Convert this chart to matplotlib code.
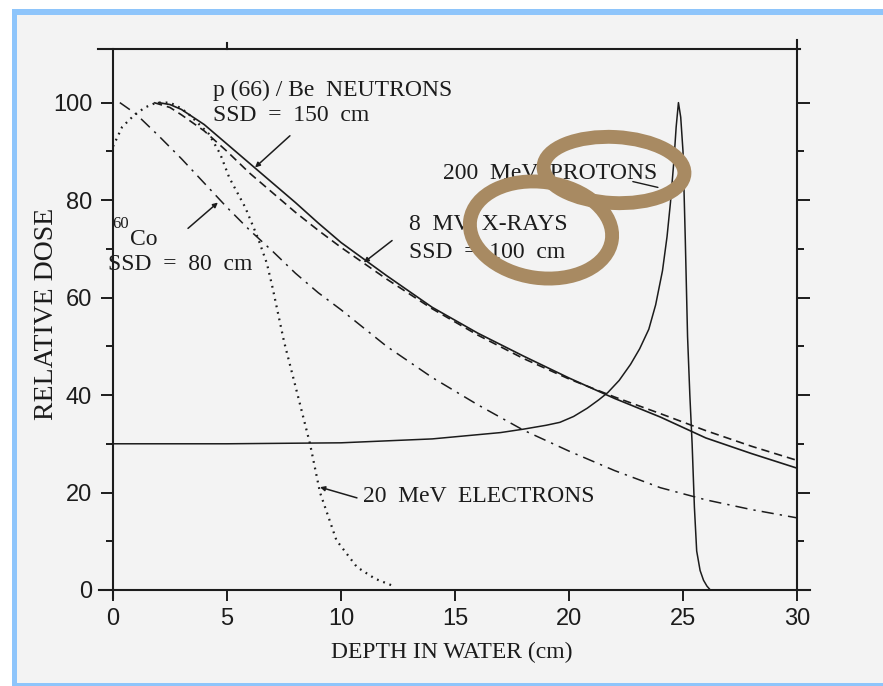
import numpy as np
import matplotlib.pyplot as plt
from matplotlib.patches import Ellipse, Rectangle

plt.rcParams['font.family'] = ['Liberation Sans', 'DejaVu Sans']
SERIF = 'Liberation Serif'
INK = '#1c1c1c'

# Depth-dose curves: depth in water (cm) vs. relative dose (%)
neutron_depth = [2.0, 2.5, 3, 4, 5, 6, 7, 8, 9, 10, 12, 14, 16, 18, 20, 22, 24, 26, 28, 30]
neutron_dose = [100, 99.6, 98.6, 95.5, 91.5, 87.5, 83.5, 79.5, 75.3, 71.3, 64.5, 58.0,
                52.7, 48.0, 43.5, 39.3, 35.5, 31.2, 28.0, 25.0]

xray_depth = [1.8, 2.5, 3, 4, 5, 6, 7, 8, 9, 10, 12, 14, 16, 18, 20, 22, 24, 26, 28, 30]
xray_dose = [100, 99.0, 97.5, 94.2, 90.0, 85.5, 81.5, 77.5, 73.8, 70.3, 63.8, 57.7,
             52.3, 47.5, 43.3, 39.6, 36.2, 32.7, 29.5, 26.6]

cobalt_depth = [0.3, 1, 2, 3, 4, 5, 6, 7, 8, 9, 10, 12, 14, 16, 18, 20, 22, 24, 26, 28, 30]
cobalt_dose = [100, 97.7, 93.2, 88.5, 83.5, 78.5, 73.8, 69.5, 65.0, 61.0, 57.5, 50.0,
               43.6, 38.0, 32.8, 28.5, 24.5, 21.0, 18.5, 16.5, 14.8]

electron_depth = [0, 0.4, 0.9, 1.4, 1.9, 2.5, 3.0, 3.4, 4.2, 4.7, 5.1, 5.8, 6.35, 6.75,
                  7.0, 7.5, 8.1, 8.64, 9.08, 9.8, 10.7, 11.5, 12.2]
electron_dose = [91, 95, 97.3, 99, 100, 100, 98.8, 97.3, 93.6, 89.5, 84.6, 78.5, 72.3, 67,
                 62, 51, 40, 30, 20, 10.2, 4.7, 2.3, 1.0]

proton_depth = [0, 5, 10, 14, 17, 18, 19, 19.6, 20.2, 20.8, 21.3, 21.7, 22.2, 22.7, 23.1,
                23.5, 23.8, 24.1, 24.3, 24.45, 24.6, 24.7, 24.8, 24.9, 25.0, 25.1, 25.2,
                25.3, 25.4, 25.5, 25.6, 25.75, 25.9, 26.05, 26.2]
proton_dose = [30, 30, 30.2, 31, 32.3, 33.0, 33.8, 34.4, 35.6, 37.3, 39.0, 40.5, 43.0,
               46.3, 49.5, 53.5, 58.5, 65.5, 72.5, 79.5, 88, 95, 100, 97, 90, 72, 52,
               40, 30, 17, 8, 4, 2, 0.8, 0]

W, H = 883, 686
fig = plt.figure(figsize=(W / 100, H / 100), dpi=100, facecolor='#f3f3f3')

# page frame
fig.add_artist(Rectangle((0, 1 - 9 / H), 1, 9 / H, transform=fig.transFigure,
                         facecolor='white', edgecolor='none'))
fig.add_artist(Rectangle((0, 0), 12 / W, 1, transform=fig.transFigure,
                         facecolor='white', edgecolor='none'))
fig.add_artist(Rectangle((12 / W, 1 - 15 / H), 1, 6 / H, transform=fig.transFigure,
                         facecolor='#8ec5fb', edgecolor='none'))
fig.add_artist(Rectangle((12 / W, 0), 5 / W, 1 - 9 / H, transform=fig.transFigure,
                         facecolor='#8ec5fb', edgecolor='none'))
fig.add_artist(Rectangle((12 / W, 0), 1, 3 / H, transform=fig.transFigure,
                         facecolor='#8ec5fb', edgecolor='none'))

ax = fig.add_axes([113 / W, 1 - 590 / H, (797 - 113) / W, (590 - 49) / H])
ax.set_facecolor('none')
ax.set_xlim(0, 30)
ax.set_ylim(0, 111)

ax.plot(neutron_depth, neutron_dose, color=INK, lw=1.2, ls='-')
ax.plot(xray_depth, xray_dose, color=INK, lw=1.2, ls=(0, (5, 3)))
ax.plot(cobalt_depth, cobalt_dose, color=INK, lw=1.1, ls=(0, (8, 4, 1.5, 4)))
ax.plot(electron_depth, electron_dose, color=INK, lw=1.6, ls=(0, (0.8, 2.2)))
ax.plot(proton_depth, proton_dose, color=INK, lw=1.1, ls='-')

# hand-drawn style axes: lines that overrun each other at the corners
for s in ax.spines.values():
    s.set_visible(False)
frame = dict(color=INK, lw=1.5, clip_on=False)
ax.plot([-0.6, 30.55], [0, 0], **frame)
ax.plot([0, 0], [-1.6, 111], **frame)
ax.plot([-0.65, 30.15], [111, 111], **frame)
ax.plot([30, 30], [0, 112.9], **frame)
ax.plot([5, 5], [111, 112.3], **frame)

ax.set_xticks(np.arange(0, 31, 5))
ax.set_yticks(np.arange(0, 101, 20))
ax.set_yticks(np.arange(10, 100, 20), minor=True)
ax.tick_params(axis='x', direction='out', length=8, width=1.4, color=INK,
               labelsize=17, pad=5, labelcolor=INK)
ax.tick_params(axis='y', which='major', direction='out', length=9, width=1.4,
               left=True, right=True, color=INK, labelsize=17, pad=6, labelcolor=INK)
ax.tick_params(axis='y', which='minor', direction='out', length=5, width=1.4,
               left=True, right=True, color=INK)

txt = dict(family=SERIF, fontsize=17, color=INK)
ax.text(4.39, 101.4, 'p (66) / Be  NEUTRONS', **txt)
ax.text(4.39, 96.3, 'SSD  =  150  cm', **txt)
ax.text(-0.05, 76.8, '60', family=SERIF, fontsize=12, color=INK, va='top')
ax.text(0.75, 70.7, 'Co', **txt)
ax.text(-0.22, 65.6, 'SSD  =  80  cm', **txt)
ax.text(14.47, 84.4, '200  MeV  PROTONS', **txt)
ax.text(12.98, 73.8, '8  MV  X-RAYS', **txt)
ax.text(12.98, 68.2, 'SSD  =  100  cm', **txt)
ax.text(10.96, 18.0, '20  MeV  ELECTRONS', **txt)

arrow = dict(arrowstyle='-|>', color=INK, lw=1.1, mutation_scale=7, shrinkA=0, shrinkB=0)
ax.annotate('', xy=(6.23, 86.7), xytext=(7.76, 93.2), arrowprops=arrow)
ax.annotate('', xy=(4.6, 79.5), xytext=(3.29, 74.2), arrowprops=arrow)
ax.annotate('', xy=(11.0, 67.2), xytext=(12.24, 71.7), arrowprops=arrow)
ax.annotate('', xy=(9.08, 21.1), xytext=(10.7, 18.9), arrowprops=arrow)
ax.annotate('', xy=(23.9, 82.6), xytext=(22.8, 83.8),
            arrowprops=dict(arrowstyle='-', color=INK, lw=1.0, shrinkA=0, shrinkB=0))

fig.text(47 / W, 1 - 314 / H, 'RELATIVE DOSE', family=SERIF, fontsize=20, color=INK,
         rotation=90, ha='center', va='center')
fig.text(452 / W, 1 - 652 / H, 'DEPTH IN WATER (cm)', family=SERIF, fontsize=17,
         color=INK, ha='center', va='center')

# highlighter rings drawn over the labels
ring = dict(fill=False, edgecolor='#a88a62', lw=10, transform=fig.dpi_scale_trans)
fig.add_artist(Ellipse((614 / 100, (H - 170) / 100), 1.41, 0.66, angle=-3, **ring))
fig.add_artist(Ellipse((541 / 100, (H - 230) / 100), 1.43, 0.96, angle=-8, **ring))

fig.savefig('out.png', dpi=100, facecolor=fig.get_facecolor())
